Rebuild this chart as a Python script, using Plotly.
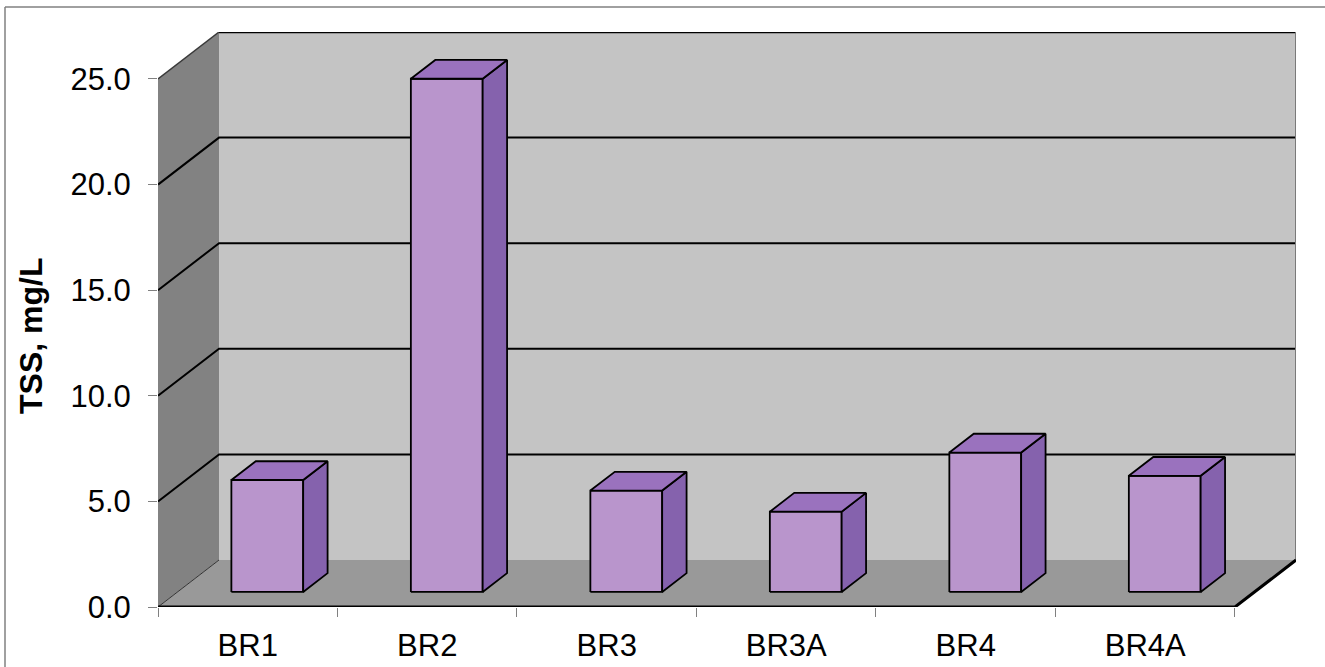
import plotly.graph_objects as go

# Total suspended solids by station
stations = ["BR1", "BR2", "BR3", "BR3A", "BR4", "BR4A"]
tss_mg_l = [5.3, 24.3, 4.8, 3.8, 6.6, 5.5]
y_ticks = [0.0, 5.0, 10.0, 15.0, 20.0, 25.0]

# Oblique 3-D projection: a point at depth f (0 = front, 1 = back) is shifted
# by f*DX category units to the right and f*DY value units upward.
DX = 0.34
DY = 2.225
BAR_W = 0.40            # bar width in category units
F0, F1 = 0.32, 0.72     # bar depth span

Y_MAX = y_ticks[-1]
N = len(stations)

W, H = 1325, 667
M = dict(l=158, r=29, t=32, b=60)

WALL_LEFT = "#828282"
WALL_BACK = "#c4c4c4"
FLOOR = "#999999"
BAR_FRONT = "#b995cc"
BAR_TOP = "#9a72be"
BAR_SIDE = "#8562ad"


def proj(u, v, f):
    return u + f * DX, v + f * DY


def poly(points, fill, line_color="black", line_width=0):
    xs, ys = zip(*[proj(*p) for p in points])
    xs = list(xs) + [xs[0]]
    ys = list(ys) + [ys[0]]
    return go.Scatter(
        x=xs, y=ys, mode="lines", fill="toself", fillcolor=fill,
        line=dict(color=line_color, width=line_width),
        hoverinfo="skip", showlegend=False,
    )


def seg(points, color, width):
    xs, ys = zip(*[proj(*p) for p in points])
    return go.Scatter(
        x=list(xs), y=list(ys), mode="lines",
        line=dict(color=color, width=width),
        hoverinfo="skip", showlegend=False,
    )


fig = go.Figure()

# walls and floor
fig.add_trace(poly([(0, 0, 0), (0, 0, 1), (0, Y_MAX, 1), (0, Y_MAX, 0)], WALL_LEFT))
fig.add_trace(poly([(0, 0, 1), (N, 0, 1), (N, Y_MAX, 1), (0, Y_MAX, 1)], WALL_BACK))
fig.add_trace(poly([(0, 0, 0), (N, 0, 0), (N, 0, 1), (0, 0, 1)], FLOOR))

# gridlines on the side and back walls
for v in y_ticks[1:-1]:
    fig.add_trace(seg([(0, v, 0), (0, v, 1), (N, v, 1)], "black", 2))

# wall outlines
fig.add_trace(seg([(0, Y_MAX, 0), (0, Y_MAX, 1)], "#3a3a3a", 1.5))
fig.add_trace(seg([(0, Y_MAX, 1), (N, Y_MAX, 1)], "black", 2.5))
fig.add_trace(seg([(N, 0, 1), (N, Y_MAX, 1)], "#7a7a7a", 2))
fig.add_trace(seg([(0, 0, 0), (0, 0, 1)], "#333333", 1))
fig.add_trace(seg([(0, 0, 0), (N, 0, 0), (N, 0, 1)], "black", 3))

# 3-D bars
for i, val in enumerate(tss_mg_l):
    u0 = i + 0.5 - BAR_W / 2
    u1 = i + 0.5 + BAR_W / 2
    fig.add_trace(poly([(u0, 0, F0), (u1, 0, F0), (u1, val, F0), (u0, val, F0)],
                       BAR_FRONT, "black", 1.8))
    fig.add_trace(poly([(u1, 0, F0), (u1, 0, F1), (u1, val, F1), (u1, val, F0)],
                       BAR_SIDE, "black", 1.8))
    fig.add_trace(poly([(u0, val, F0), (u1, val, F0), (u1, val, F1), (u0, val, F1)],
                       BAR_TOP, "black", 1.8))

FONT = "Liberation Sans, Arial, sans-serif"

fig.update_xaxes(
    range=[0, N + DX],
    tickmode="array",
    tickvals=[i + 0.5 for i in range(N)],
    ticktext=stations,
    ticks="",
    ticklabelstandoff=17,
    automargin=False,
    showgrid=False, zeroline=False, showline=False,
    tickfont=dict(family=FONT, size=31, color="black"),
    minor=dict(tickmode="linear", tick0=0, dtick=1, ticks="outside",
               ticklen=9, tickwidth=1, tickcolor="#808080", showgrid=False),
    fixedrange=True,
)
fig.update_yaxes(
    range=[0, Y_MAX + DY],
    tickmode="array",
    tickvals=y_ticks,
    tickformat=".1f",
    ticks="outside", ticklen=9, tickwidth=1, tickcolor="#808080",
    ticklabelstandoff=11,
    automargin=False,
    showgrid=False, zeroline=False, showline=False,
    tickfont=dict(family=FONT, size=31, color="black"),
    fixedrange=True,
)

plot_w = W - M["l"] - M["r"]
plot_h = H - M["t"] - M["b"]


def px_x(x):
    return (x - M["l"]) / plot_w


def px_y(y):
    return (H - M["b"] - y) / plot_h


# axis title
fig.add_annotation(
    text="<b>TSS, mg/L</b>", textangle=-90,
    xref="paper", yref="paper",
    x=px_x(31), y=px_y(336),
    xanchor="center", yanchor="middle", showarrow=False,
    font=dict(family=FONT, size=32, color="black"),
)

# chart frame (top and left edges)
frame = dict(color="#808080", width=1.5)
fig.add_shape(type="line", xref="paper", yref="paper",
              x0=px_x(5), x1=px_x(W + 10), y0=px_y(7), y1=px_y(7), line=frame)
fig.add_shape(type="line", xref="paper", yref="paper",
              x0=px_x(5), x1=px_x(5), y0=px_y(7), y1=px_y(H + 10), line=frame)

fig.update_layout(
    width=W, height=H,
    margin=dict(M, autoexpand=False),
    paper_bgcolor="white", plot_bgcolor="white",
    showlegend=False,
    hovermode=False,
)

fig.write_html("out.html", config={"displayModeBar": False})
